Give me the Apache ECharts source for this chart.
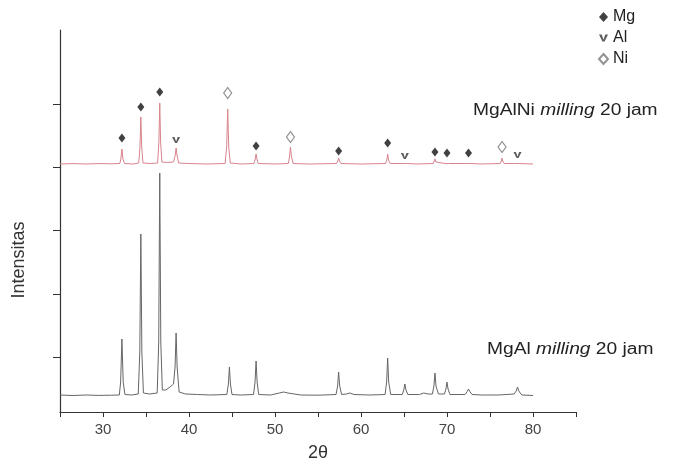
<!DOCTYPE html>
<html>
<head>
<meta charset="utf-8">
<script src="https://cdn.jsdelivr.net/npm/echarts@6/dist/echarts.min.js"></script>
<style>html,body{margin:0;padding:0;background:#fff;}#c{width:678px;height:464px;}</style>
</head>
<body>
<div id="c"></div>
<script>
// 2-theta axis
var xMin = 25, xMax = 85, xStep = 5;
var xLabels = [30, 40, 50, 60, 70, 80];
// intensity axis (arbitrary units), tick positions
var yMin = 0, yMax = 382;
var yTicks = [55, 118, 182, 245, 308];

// MgAl milling 20 jam (black trace): [2theta, intensity]
var mgAl = [
[25,17],[26.5,16.5],[28,17],[29.5,16.6],[31,16.8],[31.9,17],[32.05,30],[32.2,73],[32.35,30],[32.55,17.5],
[33.3,17],[34.1,18],[34.28,60],[34.4,178],[34.52,60],[34.7,19],
[35.4,18],[36.3,19],[36.48,70],[36.6,239],[36.72,70],[36.9,22],[37.3,22],[37.8,25],[38.2,28],[38.38,45],[38.5,79],[38.62,45],[38.85,20],
[39.6,18],[41,17.5],[42.5,17],[44.4,17.5],[44.58,28],[44.7,45],[44.82,28],[45.0,17.5],
[46,17],[47.5,17.5],[47.68,30],[47.8,51],[47.92,30],[48.1,17.5],
[49.5,17],[50.5,19],[51,20],[51.5,19],[53,17],[55,16.8],[57.1,17.5],[57.28,26],[57.4,40],[57.52,26],[57.75,17.5],[58.3,18],[58.7,19],[59.2,17.5],
[61,17],[62.8,17.5],[62.98,30],[63.1,54],[63.22,30],[63.45,17.5],
[64.8,17.5],[64.97,22],[65.1,28],[65.23,22],[65.45,17.5],
[66.8,17.5],[67.3,19],[67.8,18],[68.3,18],[68.48,26],[68.6,39],[68.72,26],[69.0,18],
[69.7,18],[69.88,23],[70.0,30],[70.12,23],[70.35,17.5],
[72.1,17.5],[72.35,20.5],[72.5,23],[72.65,20.5],[72.9,17.5],
[74,17],[76,17],[77.8,18],[78.05,21],[78.2,25],[78.35,21],[78.7,17],[80,16.5]
];

// MgAlNi milling 20 jam (red trace): [2theta, intensity]
var mgAlNi = [
[25,248],[26.5,248.4],[28,248],[29.5,248.4],[31,248.2],[31.95,248.5],[32.08,253],[32.2,263],[32.32,253],[32.5,248.5],
[33.5,248],[34.15,249],[34.3,265],[34.4,295],[34.5,265],[34.65,249],
[35.5,248.5],[36.35,249],[36.5,270],[36.6,309],[36.7,270],[36.85,250],[37.5,249.5],[38.2,250],[38.38,256],[38.5,264],[38.62,256],[38.8,249],
[40,248.5],[42,248],[44.2,248.5],[44.38,265],[44.5,303],[44.62,265],[44.8,249],
[46,248],[47.55,248.5],[47.7,253],[47.8,258],[47.9,253],[48.05,248.5],
[50,248],[51.55,248.5],[51.7,256],[51.8,265],[51.9,256],[52.1,248.5],
[54,248],[57.15,248.5],[57.3,251],[57.4,254],[57.5,251],[57.65,248.5],
[60,248],[62.85,248.5],[63.0,252],[63.1,258],[63.2,252],[63.4,248.5],
[64.9,248.5],[65.1,250],[65.3,248.5],
[66.5,248],[68.4,248.5],[68.5,250],[68.6,253],[68.7,250],[68.85,248.5],
[69.8,248.5],[70.0,250],[70.2,248.5],
[72.3,248.5],[72.5,249.5],[72.7,248.5],
[74,248],[76.2,248.5],[76.32,251],[76.4,254],[76.48,251],[76.65,248.5],
[78.0,248.5],[78.2,250],[78.4,248.5],[80,248]
];

// phase markers above the MgAlNi peaks
var mgMarks = [[32.2,274],[34.4,305],[36.6,320],[47.8,266],[57.4,261],[63.1,269],[68.6,260],[70.0,259],[72.5,259]];
var alMarks = [[38.5,272],[65.1,256],[78.2,257]];
var niMarks = [[44.5,319],[51.8,275],[76.4,265]];

var vPath = 'path://M0,0 L3,0 L5,6 L7,0 L10,0 L6.2,8 L3.8,8 Z';

var chart = echarts.init(document.getElementById('c'), null, {renderer: 'canvas'});
chart.setOption({
  animation: false,
  backgroundColor: '#ffffff',
  grid: {left: 60, right: 102, top: 30, bottom: 52, outerBoundsMode: 'none', containLabel: false},
  legend: {
    orient: 'vertical', left: 593, top: 4, itemGap: 5,
    itemWidth: 9, itemHeight: 10,
    textStyle: {fontFamily: 'Liberation Sans, Arial, sans-serif', fontSize: 16, color: '#222'},
    data: ['Mg', 'Al', 'Ni']
  },
  xAxis: {
    type: 'value', min: xMin, max: xMax, interval: xStep,
    name: '2θ', nameLocation: 'middle', nameGap: 32,
    nameTextStyle: {fontFamily: 'Liberation Sans, Arial, sans-serif', fontSize: 18, color: '#333'},
    axisLine: {lineStyle: {color: '#333', width: 1.2}},
    axisTick: {length: 5, lineStyle: {color: '#333'}},
    axisLabel: {
      margin: 10, fontFamily: 'Liberation Sans, Arial, sans-serif', fontSize: 15, color: '#444',
      formatter: function (v) { return xLabels.indexOf(v) >= 0 ? String(v) : ''; }
    },
    splitLine: {show: false}
  },
  yAxis: {
    type: 'value', min: yMin, max: yMax,
    axisLine: {show: true, lineStyle: {color: '#333', width: 1.2}},
    axisTick: {show: true, length: 7, lineStyle: {color: '#333'}, customValues: yTicks},
    axisLabel: {show: false},
    splitLine: {show: false}
  },
  graphic: [
    {type: 'text', x: 19, y: 260, rotation: Math.PI / 2,
     style: {text: 'Intensitas', fontFamily: 'Liberation Sans, Arial, sans-serif', fontSize: 18, fill: '#333', textAlign: 'center', textVerticalAlign: 'middle'}},
    {type: 'text', x: 473, y: 111, scaleX: 1.2,
     style: {text: '{a|MgAlNi }{b|milling}{a| 20 jam}', textVerticalAlign: 'middle',
       rich: {a: {fontFamily: 'Liberation Sans, Arial, sans-serif', fontSize: 16, fill: '#222', fontWeight: 'normal'},
              b: {fontFamily: 'Liberation Sans, Arial, sans-serif', fontSize: 16, fill: '#222', fontStyle: 'italic'}}}},
    {type: 'text', x: 487, y: 350, scaleX: 1.2,
     style: {text: '{a|MgAl }{b|milling}{a| 20 jam}', textVerticalAlign: 'middle',
       rich: {a: {fontFamily: 'Liberation Sans, Arial, sans-serif', fontSize: 16, fill: '#222'},
              b: {fontFamily: 'Liberation Sans, Arial, sans-serif', fontSize: 16, fill: '#222', fontStyle: 'italic'}}}}
  ],
  series: [
    {name: 'MgAl milling 20 jam', type: 'line', data: mgAl, showSymbol: false, symbol: 'none',
     lineStyle: {color: '#666666', width: 1}, z: 2},
    {name: 'MgAlNi milling 20 jam', type: 'line', data: mgAlNi, showSymbol: false, symbol: 'none',
     lineStyle: {color: '#d9848c', width: 1}, z: 2},
    {name: 'Mg', type: 'scatter', data: mgMarks, symbol: 'diamond', symbolSize: [7, 9],
     itemStyle: {color: '#111'}, z: 3},
    {name: 'Al', type: 'scatter', data: alMarks, symbol: vPath, symbolSize: [8, 6],
     itemStyle: {color: '#333'}, z: 3},
    {name: 'Ni', type: 'scatter', data: niMarks, symbol: 'diamond', symbolSize: [8, 11],
     itemStyle: {color: '#fff', borderColor: '#777', borderWidth: 1.2}, z: 3}
  ]
});
</script>
</body>
</html>
